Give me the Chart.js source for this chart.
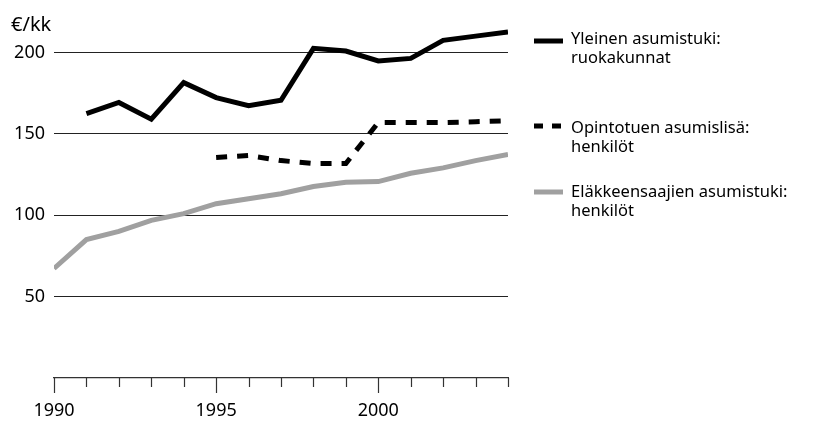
<!DOCTYPE html>
<html>
<head>
<meta charset="utf-8">
<script src="https://cdn.jsdelivr.net/npm/chart.js@4.4.1/dist/chart.umd.min.js"></script>
<style>
  html, body { margin: 0; padding: 0; background: #fff; }
  #wrap { width: 829px; height: 421px; }
</style>
</head>
<body>
<div id="wrap"><canvas id="c" width="829" height="421"></canvas></div>
<script>
// ---- data ----
const years = [1990, 1991, 1992, 1993, 1994, 1995, 1996, 1997, 1998, 1999, 2000, 2001, 2002, 2003, 2004];
const yleinenAsumistuki = [null, 162.5, 169.3, 159.1, 181.5, 172.3, 167.3, 170.7, 202.6, 200.9, 194.8, 196.4, 207.5, 210.1, 212.7];
const opintotuenAsumislisa = [null, null, null, null, null, 135.5, 136.7, 133.6, 131.8, 131.8, 157.0, 157.0, 157.0, 157.5, 158.0];
const elakkeensaajienAsumistuki = [67.3, 85.1, 90.1, 96.9, 101.0, 107.1, 110.2, 113.2, 117.7, 120.3, 120.7, 125.8, 129.1, 133.6, 137.3];
const yTicks = [50, 100, 150, 200];
const xLabelYears = [1990, 1995, 2000];
const seriesLabels = [
  ['Yleinen asumistuki:', 'ruokakunnat'],
  ['Opintotuen asumislisä:', 'henkilöt'],
  ['Eläkkeensaajien asumistuki:', 'henkilöt']
];
const yTitle = '€/kk';

const FONT = "'Noto Sans', sans-serif";

function pts(vals) {
  return years.map((y, i) => ({ x: y, y: vals[i] }));
}

const extras = {
  id: 'extras',
  afterDraw(chart) {
    const ctx = chart.ctx;
    const xs = chart.scales.x;
    const area = chart.chartArea;
    ctx.save();
    // x tick marks
    ctx.strokeStyle = '#333';
    ctx.lineWidth = 1.2;
    years.forEach(y => {
      const px = Math.round(xs.getPixelForValue(y)) + 0.5;
      const len = (y % 5 === 0) ? 15 : 9;
      ctx.beginPath();
      ctx.moveTo(px, area.bottom);
      ctx.lineTo(px, area.bottom + len);
      ctx.stroke();
    });
    // y title
    ctx.fillStyle = '#000';
    ctx.font = "20px " + FONT;
    ctx.textBaseline = 'middle';
    ctx.textAlign = 'left';
    ctx.fillText(yTitle, 11, 25);
    // legend
    const items = [
      { y: 41, base: 44, ds: 0 },
      { y: 126, base: 133, ds: 1 },
      { y: 192, base: 197, ds: 2 }
    ];
    ctx.font = "16.5px " + FONT;
    ctx.textBaseline = 'alphabetic';
    items.forEach(it => {
      const ds = chart.data.datasets[it.ds];
      ctx.beginPath();
      ctx.strokeStyle = ds.borderColor;
      ctx.lineWidth = 5;
      ctx.lineCap = 'butt';
      ctx.setLineDash(ds.borderDash && ds.borderDash.length ? [9, 9] : []);
      ctx.moveTo(534, it.y);
      ctx.lineTo(563, it.y);
      ctx.stroke();
      ctx.setLineDash([]);
      ctx.fillStyle = '#000';
      seriesLabels[it.ds].forEach((t, k) => {
        ctx.fillText(t, 571, it.base + k * 18.5);
      });
    });
    ctx.restore();
  }
};

new Chart(document.getElementById('c'), {
  type: 'line',
  data: {
    datasets: [
      {
        label: seriesLabels[0].join(' '),
        data: pts(yleinenAsumistuki),
        borderColor: '#000000',
        borderWidth: 5,
        borderJoinStyle: 'miter',
        borderCapStyle: 'butt',
        pointRadius: 0,
        tension: 0,
        spanGaps: false
      },
      {
        label: seriesLabels[1].join(' '),
        data: pts(opintotuenAsumislisa),
        borderColor: '#000000',
        borderWidth: 5,
        borderDash: [11, 10],
        borderJoinStyle: 'miter',
        borderCapStyle: 'butt',
        pointRadius: 0,
        tension: 0,
        spanGaps: false
      },
      {
        label: seriesLabels[2].join(' '),
        data: pts(elakkeensaajienAsumistuki),
        borderColor: '#a0a0a0',
        borderWidth: 5,
        borderJoinStyle: 'miter',
        borderCapStyle: 'butt',
        pointRadius: 0,
        tension: 0,
        spanGaps: false
      }
    ]
  },
  options: {
    responsive: false,
    animation: false,
    layout: { padding: { top: 20, right: 321, left: 0, bottom: 0 } },
    plugins: { legend: { display: false }, tooltip: { enabled: false }, title: { display: false } },
    scales: {
      x: {
        type: 'linear',
        min: 1990,
        max: 2004,
        afterBuildTicks(scale) { scale.ticks = years.map(v => ({ value: v })); },
        afterFit(scale) { scale.height = 43; },
        ticks: {
          autoSkip: false,
          maxRotation: 0,
          padding: 22,
          color: '#000',
          font: { family: FONT, size: 18 },
          callback: v => (xLabelYears.includes(v) ? String(v) : '')
        },
        grid: { display: false, drawOnChartArea: false, drawTicks: false },
        border: { display: true, color: '#333', width: 1.2 }
      },
      y: {
        min: 0,
        max: 220,
        afterBuildTicks(scale) { scale.ticks = yTicks.map(v => ({ value: v })); },
        afterFit(scale) { scale.width = 54; },
        ticks: {
          padding: 9,
          color: '#000',
          font: { family: FONT, size: 18 }
        },
        grid: { color: '#222', lineWidth: 1, drawTicks: false },
        border: { display: false }
      }
    }
  },
  plugins: [extras]
});
</script>
</body>
</html>
